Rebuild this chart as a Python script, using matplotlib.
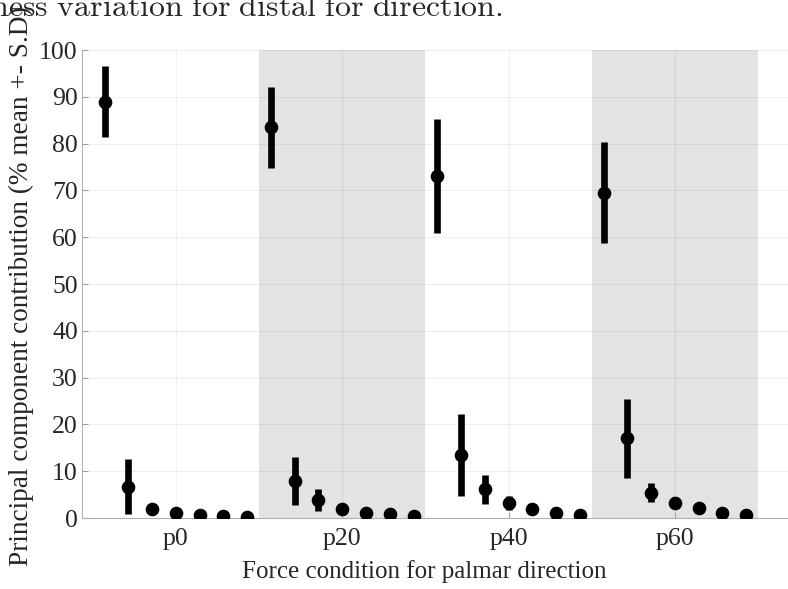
import numpy as np
import matplotlib
matplotlib.use('Agg')
from matplotlib import pyplot as plt

# Force conditions and mean +- SD of each principal component (%)
conditions = ['p0', 'p20', 'p40', 'p60']
p0_mean = [89.0, 6.7, 1.9, 1.1, 0.55, 0.35, 0.15]
p0_sd = [7.5, 5.9, 0.5, 0.4, 0.3, 0.2, 0.1]
p20_mean = [83.5, 7.9, 3.9, 1.9, 1.1, 0.8, 0.45]
p20_sd = [8.7, 5.2, 2.3, 0.6, 0.5, 0.4, 0.2]
p40_mean = [73.1, 13.5, 6.1, 3.2, 1.9, 1.0, 0.65]
p40_sd = [12.1, 8.7, 3.2, 1.4, 0.5, 0.4, 0.3]
p60_mean = [69.5, 17.0, 5.4, 3.3, 2.2, 1.1, 0.65]
p60_sd = [10.8, 8.5, 2.0, 1.2, 0.6, 0.4, 0.3]

means = [p0_mean, p20_mean, p40_mean, p60_mean]
sds = [p0_sd, p20_sd, p40_sd, p60_sd]

plt.rcParams['font.family'] = ['Liberation Serif', 'DejaVu Serif']
plt.rcParams['mathtext.fontset'] = 'cm'
fs = 18.5

fig = plt.figure(figsize=(7.88, 5.89), dpi=100)
ax = fig.add_axes([0.104, 0.1205, 0.896, 0.7945])

# shaded background for every second condition
for g in range(len(conditions)):
    if g % 2 == 1:
        ax.axvspan(g + 1 - 0.5, g + 1 + 0.5, color='#e3e3e3', lw=0, zorder=0.5)

n_pc = len(p0_mean)
for g in range(len(conditions)):
    x = g + 1 + (np.arange(n_pc) - 3) / 7.0
    ax.errorbar(x, means[g], yerr=sds[g], fmt='o', color='black', ecolor='black',
                elinewidth=4.8, capsize=0, markersize=8.8, zorder=3)

ax.set_xlim(0.435, 4.68)
ax.set_ylim(0, 100)
ax.set_yticks(np.arange(0, 101, 10))
ax.set_xticks(range(1, len(conditions) + 1))
ax.set_xticklabels(conditions)
ax.grid(True, color='black', alpha=0.06, lw=0.8)
ax.tick_params(direction='in', colors='#a0a0a0', labelcolor='#262626',
               labelsize=fs, length=4)
ax.tick_params(axis='x', pad=7)
ax.tick_params(axis='y', pad=3)
for side in ['top', 'right']:
    ax.spines[side].set_visible(False)
for side in ['left', 'bottom']:
    ax.spines[side].set_color('#b0b0b0')

fig.text(424 / 788, 1 - 578 / 589, 'Force condition for palmar direction',
         ha='center', va='baseline', fontsize=18, color='#262626')
fig.text(21 / 788, 1 - 286 / 589, 'Principal component contribution (% mean +- S.D)',
         ha='center', va='center', rotation=90, fontsize=19.6, color='#262626')
# title is cut at the top-left edge, as in the source figure
fig.text(503 / 788, 1 - 15 / 589,
         r'$\mathrm{Stiffness\ variation\ for\ distal\ for\ direction.}$',
         ha='right', va='baseline', fontsize=23, color='#262626')

fig.savefig('out.png', dpi=100)
